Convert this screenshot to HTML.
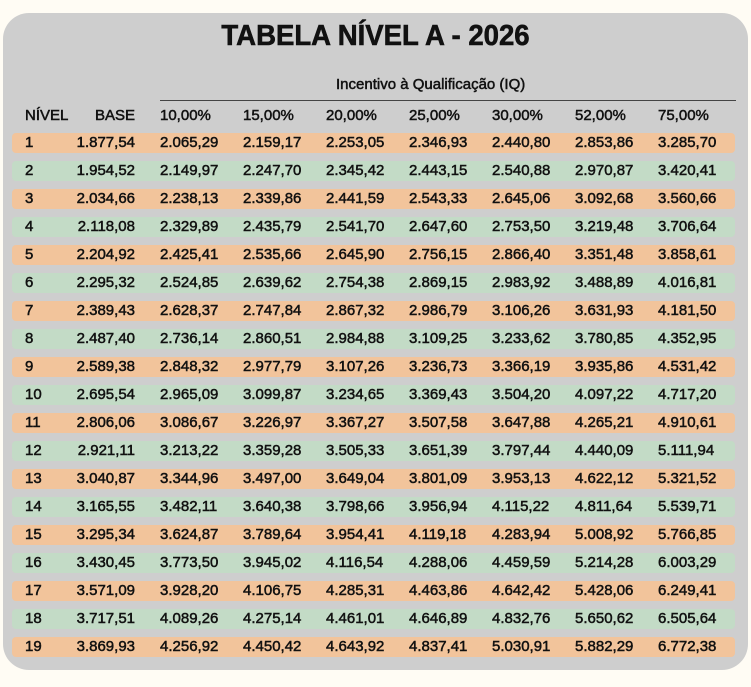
<!DOCTYPE html>
<html><head><meta charset="utf-8">
<style>
body{margin:0;width:751px;height:687px;background:#fffcf4;font-family:"Liberation Sans",sans-serif;position:relative;overflow:hidden;color:#111}
#panel{position:absolute;left:3px;top:13px;width:745px;height:657px;background:#cecece;border-radius:26px}
.t{position:absolute;white-space:nowrap}
#title{left:0;width:751px;text-align:center;top:20px;font-size:29px;font-weight:bold;transform:scaleX(.95);-webkit-text-stroke:.6px #111}
.row{position:absolute;left:12px;width:723px;height:20px;border-radius:4px}
.c{position:absolute;font-size:15px;line-height:20px;-webkit-text-stroke:.5px #111}
</style></head><body>
<div id="panel"></div>
<div id="title" class="t">TABELA NÍVEL A - 2026</div>
<div class="t" style="left:336px;top:76px;font-size:15px;-webkit-text-stroke:.5px #111">Incentivo à Qualificação (IQ)</div>
<div style="position:absolute;left:160px;top:100px;width:576px;height:1px;background:#444"></div>
<div id="tbl"></div>
<script>
const headers=["10,00%","15,00%","20,00%","25,00%","30,00%","52,00%","75,00%"];
const base=["1.877,54","1.954,52","2.034,66","2.118,08","2.204,92","2.295,32","2.389,43","2.487,40","2.589,38","2.695,54","2.806,06","2.921,11","3.040,87","3.165,55","3.295,34","3.430,45","3.571,09","3.717,51","3.869,93"];
const vals=[
["2.065,29","2.159,17","2.253,05","2.346,93","2.440,80","2.853,86","3.285,70"],
["2.149,97","2.247,70","2.345,42","2.443,15","2.540,88","2.970,87","3.420,41"],
["2.238,13","2.339,86","2.441,59","2.543,33","2.645,06","3.092,68","3.560,66"],
["2.329,89","2.435,79","2.541,70","2.647,60","2.753,50","3.219,48","3.706,64"],
["2.425,41","2.535,66","2.645,90","2.756,15","2.866,40","3.351,48","3.858,61"],
["2.524,85","2.639,62","2.754,38","2.869,15","2.983,92","3.488,89","4.016,81"],
["2.628,37","2.747,84","2.867,32","2.986,79","3.106,26","3.631,93","4.181,50"],
["2.736,14","2.860,51","2.984,88","3.109,25","3.233,62","3.780,85","4.352,95"],
["2.848,32","2.977,79","3.107,26","3.236,73","3.366,19","3.935,86","4.531,42"],
["2.965,09","3.099,87","3.234,65","3.369,43","3.504,20","4.097,22","4.717,20"],
["3.086,67","3.226,97","3.367,27","3.507,58","3.647,88","4.265,21","4.910,61"],
["3.213,22","3.359,28","3.505,33","3.651,39","3.797,44","4.440,09","5.111,94"],
["3.344,96","3.497,00","3.649,04","3.801,09","3.953,13","4.622,12","5.321,52"],
["3.482,11","3.640,38","3.798,66","3.956,94","4.115,22","4.811,64","5.539,71"],
["3.624,87","3.789,64","3.954,41","4.119,18","4.283,94","5.008,92","5.766,85"],
["3.773,50","3.945,02","4.116,54","4.288,06","4.459,59","5.214,28","6.003,29"],
["3.928,20","4.106,75","4.285,31","4.463,86","4.642,42","5.428,06","6.249,41"],
["4.089,26","4.275,14","4.461,01","4.646,89","4.832,76","5.650,62","6.505,64"],
["4.256,92","4.450,42","4.643,92","4.837,41","5.030,91","5.882,29","6.772,38"]];
const tbl=document.getElementById('tbl');
function cell(txt,x,y,right,name){
 const d=document.createElement('div');d.className='c';d.textContent=txt;
 if(right){d.style.right=(751-x)+'px';}else d.style.left=x+'px';
 d.style.top=y+'px';
 
 
 tbl.appendChild(d);
}
cell("NÍVEL",25,106,false,'nivel-header');
cell("BASE",135,106,true,'base-header');
headers.forEach((h,j)=>cell(h,160+83*j,106,false,'iq-header'));
base.forEach((b,i)=>{
 const y=133+28*i;
 const r=document.createElement('div');r.className='row';
 r.style.top=y+'px';r.style.background=i%2?'#c3dbc6':'#f2c49b';
 
 
 tbl.appendChild(r);
 cell(String(i+1),25,y,false,'nivel-cell');
 cell(b,135,y,true,'base-cell');
 vals[i].forEach((v,j)=>cell(v,160+83*j,y,false,'iq-cell'));
});
</script>
</body></html>
